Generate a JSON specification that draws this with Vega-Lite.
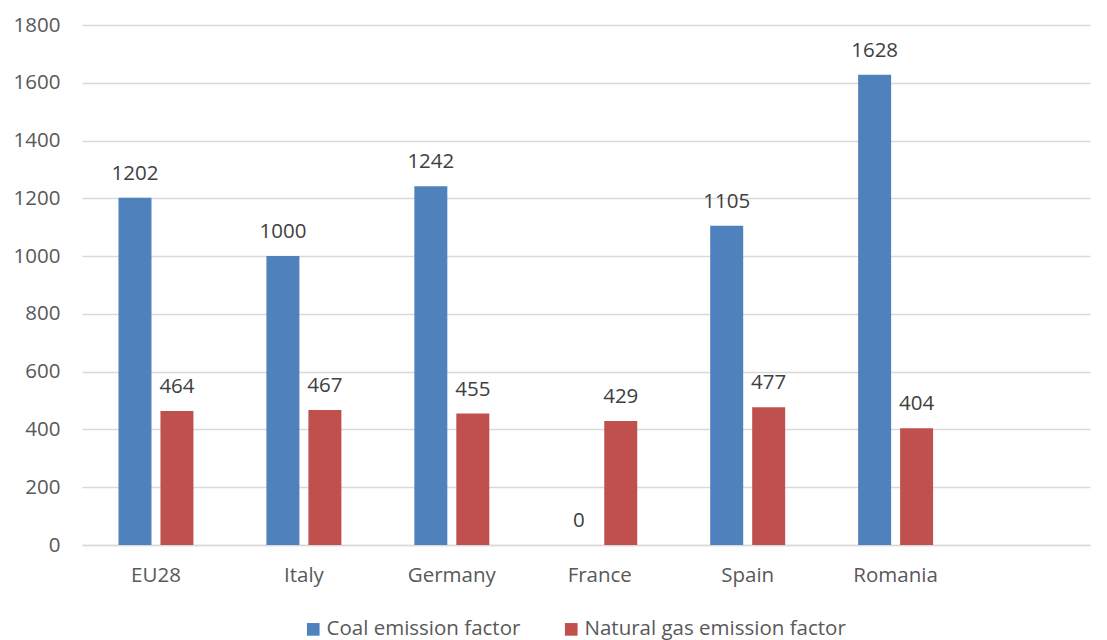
{
  "$schema": "https://vega.github.io/schema/vega-lite/v6.json",
  "width": 1008,
  "height": 520,
  "autosize": {"type": "none"},
  "padding": {"left": 82, "top": 25, "right": 17, "bottom": 95},
  "background": "white",
  "config": {
    "font": "Open Sans",
    "view": {"stroke": null}
  },
  "data": {
    "values": [
      {"country": "EU28", "series": "Coal emission factor", "value": 1202},
      {"country": "EU28", "series": "Natural gas emission factor", "value": 464},
      {"country": "Italy", "series": "Coal emission factor", "value": 1000},
      {"country": "Italy", "series": "Natural gas emission factor", "value": 467},
      {"country": "Germany", "series": "Coal emission factor", "value": 1242},
      {"country": "Germany", "series": "Natural gas emission factor", "value": 455},
      {"country": "France", "series": "Coal emission factor", "value": 0},
      {"country": "France", "series": "Natural gas emission factor", "value": 429},
      {"country": "Spain", "series": "Coal emission factor", "value": 1105},
      {"country": "Spain", "series": "Natural gas emission factor", "value": 477},
      {"country": "Romania", "series": "Coal emission factor", "value": 1628},
      {"country": "Romania", "series": "Natural gas emission factor", "value": 404}
    ]
  },
  "encoding": {
    "x": {
      "field": "country",
      "type": "nominal",
      "sort": ["EU28", "Italy", "Germany", "France", "Spain", "Romania"],
      "scale": {"paddingInner": 0, "paddingOuter": 0.407, "align": 0},
      "axis": {
        "title": null,
        "labelAngle": 0,
        "labelFontSize": 20.5,
        "labelColor": "#595959",
        "labelPadding": 20,
        "ticks": false,
        "domainColor": "#d9d9d9",
        "domainWidth": 1.5
      }
    },
    "xOffset": {
      "field": "series",
      "type": "nominal",
      "sort": ["Coal emission factor", "Natural gas emission factor"],
      "scale": {"paddingInner": 0.214, "paddingOuter": 0.869}
    },
    "y": {
      "field": "value",
      "type": "quantitative",
      "scale": {"domain": [0, 1800], "nice": false},
      "axis": {
        "title": null,
        "values": [0, 200, 400, 600, 800, 1000, 1200, 1400, 1600, 1800],
        "format": "d",
        "labelFontSize": 20.5,
        "labelColor": "#595959",
        "labelPadding": 22,
        "ticks": false,
        "domain": false,
        "gridColor": "#d9d9d9",
        "gridWidth": 1.5
      }
    }
  },
  "layer": [
    {
      "mark": {"type": "bar"},
      "encoding": {
        "color": {
          "field": "series",
          "type": "nominal",
          "sort": ["Coal emission factor", "Natural gas emission factor"],
          "scale": {"range": ["#4f81bd", "#c0504d"]},
          "legend": {
            "title": null,
            "orient": "none",
            "legendX": 221,
            "legendY": 594,
            "direction": "horizontal",
            "symbolType": "square",
            "symbolSize": 160,
            "symbolStrokeWidth": 0,
            "labelFontSize": 20.5,
            "labelColor": "#595959",
            "labelLimit": 400,
            "labelOffset": 3,
            "columnPadding": 40
          }
        }
      }
    },
    {
      "mark": {
        "type": "text",
        "baseline": "alphabetic",
        "dy": -18,
        "fontSize": 20.5,
        "color": "#404040"
      },
      "encoding": {
        "text": {"field": "value", "type": "quantitative", "format": "d"}
      }
    }
  ]
}
